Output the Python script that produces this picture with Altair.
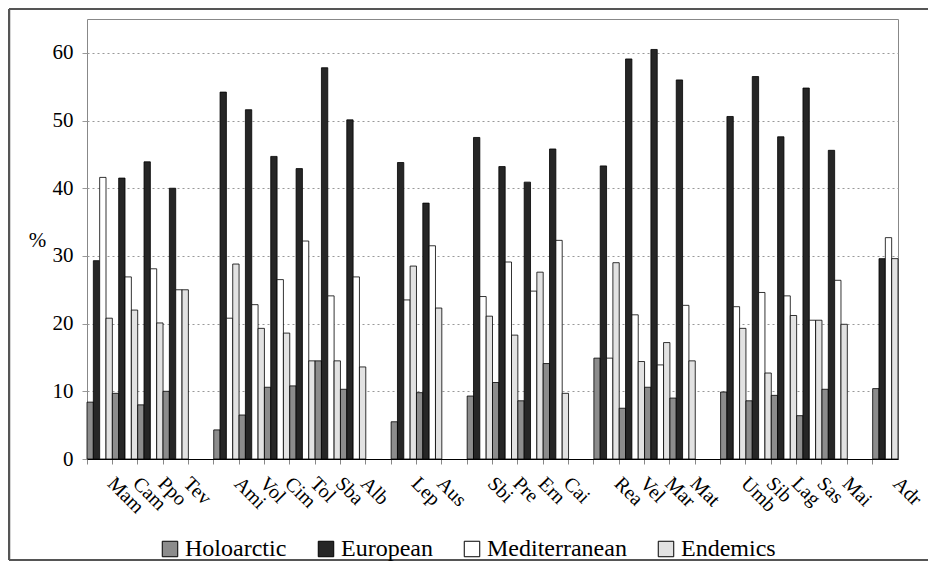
import altair as alt
import pandas as pd

# slots on the category axis; names starting with "_" are empty spacer slots
categories = ["Mam", "Cam", "Ppo", "Tev", "_g1",
              "Ami", "Vol", "Cim", "Tol", "Sba", "Alb", "_g2",
              "Lep", "Aus", "_g3",
              "Sbi", "Pre", "Ern", "Cai", "_g4",
              "Rea", "Vel", "Mar", "Mat", "_g5",
              "Umb", "Sib", "Lag", "Sas", "Mai", "_g6",
              "Adr"]
series = ["Holoarctic", "European", "Mediterranean", "Endemics"]

sites = ["Mam", "Cam", "Ppo", "Tev", "Ami", "Vol", "Cim", "Tol", "Sba", "Alb",
         "Lep", "Aus", "Sbi", "Pre", "Ern", "Cai", "Rea", "Vel", "Mar", "Mat",
         "Umb", "Sib", "Lag", "Sas", "Mai", "Adr"]
holoarctic = [8.4, 9.7, 8.0, 10.0, 4.3, 6.5, 10.6, 10.8, 14.5, 10.3,
              5.5, 9.8, 9.3, 11.3, 8.6, 14.1, 14.9, 7.5, 10.6, 9.0,
              9.9, 8.6, 9.4, 6.4, 10.3, 10.4]
european = [29.3, 41.5, 43.9, 40.0, 54.2, 51.6, 44.7, 42.9, 57.8, 50.1,
            43.8, 37.8, 47.5, 43.2, 40.9, 45.8, 43.3, 59.1, 60.5, 56.0,
            50.6, 56.5, 47.6, 54.8, 45.6, 29.6]
mediterranean = [41.6, 26.9, 28.1, 25.0, 20.8, 22.8, 26.5, 32.2, 24.1, 26.9,
                 23.5, 31.5, 24.0, 29.1, 24.8, 32.3, 14.9, 21.3, 13.9, 22.7,
                 22.5, 24.6, 24.1, 20.5, 26.4, 32.7]
endemics = [20.8, 22.0, 20.1, 25.0, 28.8, 19.3, 18.6, 14.5, 14.5, 13.6,
            28.5, 22.3, 21.1, 18.3, 27.6, 9.7, 29.0, 14.4, 17.2, 14.5,
            19.3, 12.7, 21.2, 20.5, 19.9, 29.6]
y_ticks = [0, 10, 20, 30, 40, 50, 60]
fills = ["#8c8c8c", "#262626", "#ffffff", "#e2e2e2"]

rows = []
for i, site in enumerate(sites):
    for s, vals in zip(series, [holoarctic, european, mediterranean, endemics]):
        rows.append({"site": site, "series": s, "value": vals[i]})
df = pd.DataFrame(rows)

FONT = "'Liberation Serif', 'Times New Roman', Times, serif"
W, H = 811, 440

bars = alt.Chart(df).mark_bar(stroke="black", strokeWidth=0.8).encode(
    x=alt.X(
        "site:N",
        sort=categories,
        scale=alt.Scale(domain=categories, paddingInner=0, paddingOuter=0),
        axis=alt.Axis(
            title=None, labelAngle=45, labelAlign="left", labelBaseline="middle",
            labelExpr="indexof(datum.value, '_') == 0 ? '' : datum.value",
            bandPosition=0, labelOffset=11, labelPadding=16,
            tickSize=5, tickColor="#888", domainColor="black",
            labelFont=FONT, labelFontSize=20, labelColor="black",
            grid=False, labelOverlap=False,
        ),
    ),
    xOffset=alt.XOffset(
        "series:N", sort=series,
        scale=alt.Scale(domain=series, paddingInner=0, paddingOuter=0),
    ),
    y=alt.Y(
        "value:Q",
        scale=alt.Scale(domain=[0, 65], nice=False),
        axis=alt.Axis(
            values=y_ticks, title="%", titleAngle=0, titleX=-50, titleY=221,
            titleAlign="center", titleBaseline="middle",
            titleFont=FONT, titleFontSize=21, titleFontWeight="normal", titleColor="black",
            labelFont=FONT, labelFontSize=21, labelColor="black", labelPadding=9,
            tickSize=5, tickColor="#999", domain=False,
            grid=True, gridDash=[2, 3], gridColor="#999", gridWidth=1,
        ),
    ),
    color=alt.Color(
        "series:N", sort=series,
        scale=alt.Scale(domain=series, range=fills),
        legend=alt.Legend(
            title=None, orient="none", legendX=71, legendY=518,
            direction="horizontal", columns=4, symbolType="square",
            symbolSize=240, symbolStrokeColor="black", symbolStrokeWidth=1,
            symbolOpacity=1, labelFont=FONT, labelFontSize=24, labelColor="black",
            columnPadding=27, labelOffset=3,
        ),
    ),
)

one = pd.DataFrame({"a": [0]})
frame_left = alt.Chart(one).mark_rule(color="#555", strokeWidth=2.5).encode(
    x=alt.value(-78), y=alt.value(-10), y2=alt.value(541))
frame_top = alt.Chart(one).mark_rule(color="#555", strokeWidth=2).encode(
    x=alt.value(-78), x2=alt.value(841), y=alt.value(-10))
frame_bottom = alt.Chart(one).mark_rule(color="#555", strokeWidth=2).encode(
    x=alt.value(-78), x2=alt.value(841), y=alt.value(541))

chart = alt.layer(bars, frame_left, frame_top, frame_bottom).properties(
    width=W, height=H,
    autosize=alt.AutoSizeParams(type="none"),
    padding={"left": 79, "top": 11, "right": 30, "bottom": 102},
).configure_view(stroke="#888", strokeWidth=1)

chart.save("out.html", embed_options={"renderer": "svg", "actions": False})
